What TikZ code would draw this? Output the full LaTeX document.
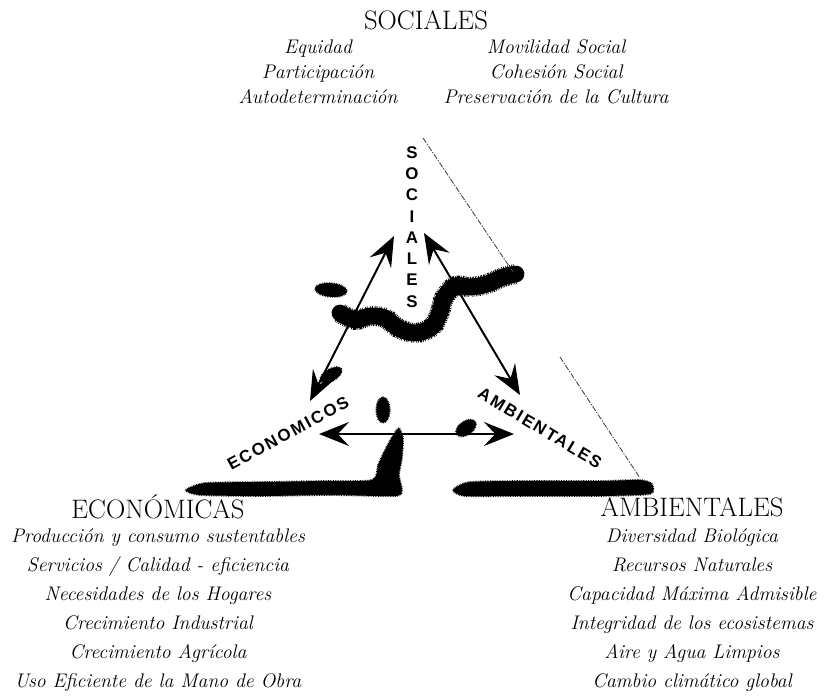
\documentclass[tikz,border=0pt]{standalone}
\usepackage{fontspec}
\newfontfamily\arialfont[LetterSpace=12]{Liberation Sans}
\usetikzlibrary{arrows.meta}

\tikzset{
  titulo/.style={font=\fontsize{19}{23}\selectfont, inner sep=0pt},
  lista/.style={font=\fontsize{14}{17.8}\selectfont\itshape, align=center, inner sep=0pt},
  listab/.style={lista, font=\fontsize{14}{20.6}\selectfont\itshape},
  eje/.style={font=\arialfont\bfseries\fontsize{12}{14}\selectfont, inner sep=0pt},
  flecha/.style={line width=1.4pt,
    {Stealth[length=7.5mm,width=6mm,inset=2.8mm]}-{Stealth[length=7.5mm,width=6mm,inset=2.8mm]}},
  mancha/.style={fill=black, draw=black, line width=1.2pt, dash pattern=on 0.5pt off 0.7pt},
  trazo/.style={draw=black, line width=4.2mm, line cap=round, line join=round},
  flecos/.style={draw=black, line width=5mm, line cap=butt, line join=round, dash pattern=on 0.5pt off 0.8pt},
  borde/.style={line width=0.6pt, black!75, dash pattern=on 4pt off 1pt on 1pt off 1pt}
}

\begin{document}
\begin{tikzpicture}[x=0.025cm, y=-0.025cm]
  \useasboundingbox (0,0) rectangle (827,699);

  % textos
  \node[titulo] (tsoc) at (426,20) {SOCIALES};
  \node[lista] (socizq) at (318,72) {Equidad\\Participación\\Autodeterminación};
  \node[lista] (socder) at (556,72) {Movilidad Social\\Cohesión Social\\Preservación de la Cultura};
  \node[titulo] (teco) at (158,507) {ECONÓMICAS};
  \node[listab] (ecolist) at (158,610) {Producción y consumo sustentables\\Servicios / Calidad - eficiencia\\
    Necesidades de los Hogares\\Crecimiento Industrial\\Crecimiento Agrícola\\Uso Eficiente de la Mano de Obra};
  \node[titulo] (tamb) at (692,507) {AMBIENTALES};
  \node[listab] (amblist) at (692,610) {Diversidad Biológica\\Recursos Naturales\\
    Capacidad Máxima Admisible\\Integridad de los ecosistemas\\Aire y Agua Limpios\\Cambio climático global};

  % ejes del triangulo
  \foreach \l [count=\i] in {S,O,C,I,A,L,E,S}
    \node[eje] (s\i) at (412,131+21.3*\i) {\l};
  \node[eje, rotate=28.5] (eco) at (288,433) {ECONOMICOS};
  \node[eje, rotate=-31] (amb) at (540,428) {AMBIENTALES};

  % manchas
  \draw[trazo] plot[smooth, tension=0.6] coordinates {(340,313) (355,320) (370,316) (385,318)
    (398,328) (415,333) (432,327) (440,312) (444,298) (455,286) (470,287) (487,284) (503,277) (516,274)};
  \draw[flecos] plot[smooth, tension=0.6] coordinates {(340,313) (355,320) (370,316) (385,318)
    (398,328) (415,333) (432,327) (440,312) (444,298) (455,286) (470,287) (487,284) (503,277) (516,274)};
  \filldraw[mancha] plot[smooth cycle, tension=0.4] coordinates {(186,490) (205,483) (260,482) (320,481)
    (372,480) (378,465) (386,448) (394,434) (399,428) (403,438) (402,458) (399,475) (402,490)
    (395,496) (330,495) (260,496) (200,495)};
  \filldraw[mancha] plot[smooth cycle, tension=0.4] coordinates {(453,490) (470,482) (530,481) (600,481)
    (640,480) (652,484) (650,494) (600,496) (520,496) (465,496)};
  \filldraw[mancha, rotate around={-5:(331,290)}] (331,290) ellipse [x radius=0.4cm, y radius=0.17cm];
  \filldraw[mancha, rotate around={30:(331,375)}] (331,375) ellipse [x radius=0.3cm, y radius=0.15cm];
  \filldraw[mancha] (383,410) ellipse [x radius=0.17cm, y radius=0.32cm];
  \filldraw[mancha, rotate around={35:(466,428)}] (466,428) ellipse [x radius=0.28cm, y radius=0.17cm];

  % lado punteado
  \coordinate (cima) at (423,138);
  \coordinate (b1) at (513,272);
  \coordinate (b2) at (560,357);
  \coordinate (b3) at (640,478);
  \draw[borde] (cima) -- (b1);
  \draw[borde] (b2) -- (b3);

  % flechas
  \coordinate (socizqp) at (394,236);
  \coordinate (ecoarr) at (310,401);
  \coordinate (socderp) at (424,233);
  \coordinate (ambarr) at (520,395);
  \coordinate (ecoder) at (319,434);
  \coordinate (ambizq) at (514,434);
  \draw[flecha] (ecoarr) -- (socizqp);
  \draw[flecha] (ambarr) -- (socderp);
  \draw[flecha] (ecoder) -- (ambizq);
\end{tikzpicture}
\end{document}
